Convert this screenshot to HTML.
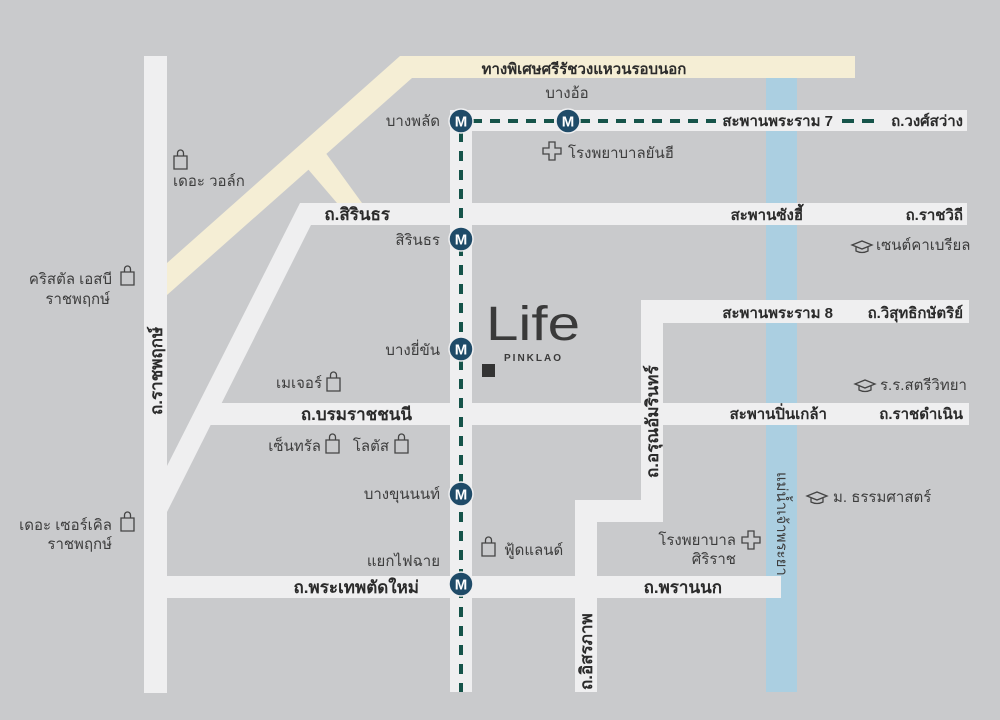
<!DOCTYPE html>
<html><head><meta charset="utf-8"><style>
html,body{margin:0;padding:0;background:#c9cacc}
svg{display:block}
text{font-family:"Liberation Sans","Noto Sans CJK SC",sans-serif}
.b{font-weight:bold;fill:#2b2b2b;font-size:15px}
.L{font-size:17px}
.n{fill:#3d3d3d;font-size:15px}
</style></head><body>
<svg width="1000" height="720" viewBox="0 0 1000 720" xmlns="http://www.w3.org/2000/svg">
<rect width="1000" height="720" fill="#c9cacc"/>
<rect x="766" y="78" width="31" height="614" fill="#abcfe1"/>
<g fill="#f5eed5">
<rect x="400" y="56" width="455" height="22"/>
<polygon points="400,56 412,56 412,78 167,295 167,263"/>
<polygon points="307,168 325,152 362,203 337,203"/>
</g>
<g fill="#efeff0">
<rect x="144" y="56" width="23" height="637"/>
<rect x="450" y="110" width="517" height="21"/>
<rect x="450" y="110" width="22" height="582"/>
<rect x="300" y="203" width="667" height="22"/>
<polygon points="300,203 322,203 167,512 167,466"/>
<rect x="210" y="403" width="759" height="22"/>
<rect x="641" y="300" width="328" height="23"/>
<rect x="641" y="300" width="22" height="222"/>
<rect x="575" y="500" width="88" height="22"/>
<rect x="575" y="500" width="22" height="192"/>
<rect x="144" y="576" width="637" height="22"/>
</g>
<g stroke="#16544a" stroke-width="4" fill="none">
<line x1="472" y1="121" x2="725" y2="121" stroke-dasharray="10,8"/>
<line x1="842" y1="121" x2="880" y2="121" stroke-dasharray="12,8"/>
<line x1="461" y1="132" x2="461" y2="692" stroke-dasharray="10,9"/>
</g>
<g>
<g transform="translate(461,121)"><circle r="12" fill="#1f4b68" stroke="#efeff0" stroke-width="1.5"/><text y="5.5" text-anchor="middle" font-size="15" font-weight="bold" fill="#fff">M</text></g>
<g transform="translate(568,121)"><circle r="12" fill="#1f4b68" stroke="#efeff0" stroke-width="1.5"/><text y="5.5" text-anchor="middle" font-size="15" font-weight="bold" fill="#fff">M</text></g>
<g transform="translate(461,239)"><circle r="12" fill="#1f4b68" stroke="#efeff0" stroke-width="1.5"/><text y="5.5" text-anchor="middle" font-size="15" font-weight="bold" fill="#fff">M</text></g>
<g transform="translate(461,349)"><circle r="12" fill="#1f4b68" stroke="#efeff0" stroke-width="1.5"/><text y="5.5" text-anchor="middle" font-size="15" font-weight="bold" fill="#fff">M</text></g>
<g transform="translate(461,494)"><circle r="12" fill="#1f4b68" stroke="#efeff0" stroke-width="1.5"/><text y="5.5" text-anchor="middle" font-size="15" font-weight="bold" fill="#fff">M</text></g>
<g transform="translate(461,584)"><circle r="12" fill="#1f4b68" stroke="#efeff0" stroke-width="1.5"/><text y="5.5" text-anchor="middle" font-size="15" font-weight="bold" fill="#fff">M</text></g>
</g>
<text x="486" y="340" font-size="48" fill="#3a3a3a" textLength="94" lengthAdjust="spacingAndGlyphs">Life</text>
<text x="504" y="361" font-size="10" fill="#3a3a3a" letter-spacing="2" font-weight="bold">PINKLAO</text>
<rect x="482" y="364" width="13" height="13" fill="#333"/>
<text class="b" x="584" y="74" text-anchor="middle" font-size="18">ทางพิเศษศรีรัชวงแหวนรอบนอก</text>
<text class="b" x="833" y="126" text-anchor="end">สะพานพระราม 7</text>
<text class="b" x="963" y="126" text-anchor="end">ถ.วงศ์สว่าง</text>
<text class="b L" x="390" y="220" text-anchor="end">ถ.สิรินธร</text>
<text class="b" x="803" y="220" text-anchor="end">สะพานซังฮี้</text>
<text class="b" x="963" y="220" text-anchor="end">ถ.ราชวิถี</text>
<text class="b" x="833" y="318" text-anchor="end">สะพานพระราม 8</text>
<text class="b" x="963" y="318" text-anchor="end">ถ.วิสุทธิกษัตริย์</text>
<text class="b L" x="412" y="420" text-anchor="end">ถ.บรมราชชนนี</text>
<text class="b" x="827" y="419" text-anchor="end">สะพานปิ่นเกล้า</text>
<text class="b" x="963" y="419" text-anchor="end">ถ.ราชดำเนิน</text>
<text class="b L" x="419" y="593" text-anchor="end">ถ.พระเทพตัดใหม่</text>
<text class="b L" x="722" y="593" text-anchor="end">ถ.พรานนก</text>
<text class="b L" transform="translate(162,415) rotate(-90)">ถ.ราชพฤกษ์</text>
<text class="b L" transform="translate(658,478) rotate(-90)">ถ.อรุณอัมรินทร์</text>
<text class="b L" transform="translate(592,690) rotate(-90)">ถ.อิสรภาพ</text>
<text class="n" transform="translate(777,472) rotate(90)">แม่น้ำเจ้าพระยา</text>
<text class="n" x="567" y="98" text-anchor="middle">บางอ้อ</text>
<text class="n" x="440" y="126" text-anchor="end">บางพลัด</text>
<text class="n" x="440" y="245" text-anchor="end">สิรินธร</text>
<text class="n" x="440" y="355" text-anchor="end">บางยี่ขัน</text>
<text class="n" x="440" y="499" text-anchor="end">บางขุนนนท์</text>
<text class="n" x="440" y="566" text-anchor="end">แยกไฟฉาย</text>
<g fill="none" stroke="#444" stroke-width="1.3">
<path d="M174,156h13v13h-13zM177.5,156v-3a3,3 0 0 1 6,0v3"/>
<path d="M121,272h13v13h-13zM124.5,272v-3a3,3 0 0 1 6,0v3"/>
<path d="M327,378h13v13h-13zM330.5,378v-3a3,3 0 0 1 6,0v3"/>
<path d="M326,440h13v13h-13zM329.5,440v-3a3,3 0 0 1 6,0v3"/>
<path d="M395,440h13v13h-13zM398.5,440v-3a3,3 0 0 1 6,0v3"/>
<path d="M121,518h13v13h-13zM124.5,518v-3a3,3 0 0 1 6,0v3"/>
<path d="M482,543h13v13h-13zM485.5,543v-3a3,3 0 0 1 6,0v3"/>
<path d="M543,148h6v-6h6v6h6v6h-6v6h-6v-6h-6z"/>
<path d="M742,537h6v-6h6v6h6v6h-6v6h-6v-6h-6z"/>
<path d="M852,245l10,-4l10,4l-10,4zM856,247v4q6,3 12,0v-4"/>
<path d="M855,384l10,-4l10,4l-10,4zM859,386v4q6,3 12,0v-4"/>
<path d="M807,496l10,-4l10,4l-10,4zM811,498v4q6,3 12,0v-4"/>
</g>
<text class="n" x="173" y="186">เดอะ วอล์ก</text>
<text class="n" x="568" y="158">โรงพยาบาลยันฮี</text>
<text class="n" x="876" y="250">เซนต์คาเบรียล</text>
<text class="n" x="112" y="284" text-anchor="end">คริสตัล เอสบี</text>
<text class="n" x="110" y="304" text-anchor="end">ราชพฤกษ์</text>
<text class="n" x="322" y="388" text-anchor="end">เมเจอร์</text>
<text class="n" x="880" y="390">ร.ร.สตรีวิทยา</text>
<text class="n" x="321" y="451" text-anchor="end">เซ็นทรัล</text>
<text class="n" x="389" y="451" text-anchor="end">โลตัส</text>
<text class="n" x="833" y="502">ม. ธรรมศาสตร์</text>
<text class="n" x="112" y="530" text-anchor="end">เดอะ เซอร์เคิล</text>
<text class="n" x="112" y="549" text-anchor="end">ราชพฤกษ์</text>
<text class="n" x="504" y="555">ฟู้ดแลนด์</text>
<text class="n" x="736" y="545" text-anchor="end">โรงพยาบาล</text>
<text class="n" x="736" y="564" text-anchor="end">ศิริราช</text>
</svg>
</body></html>
